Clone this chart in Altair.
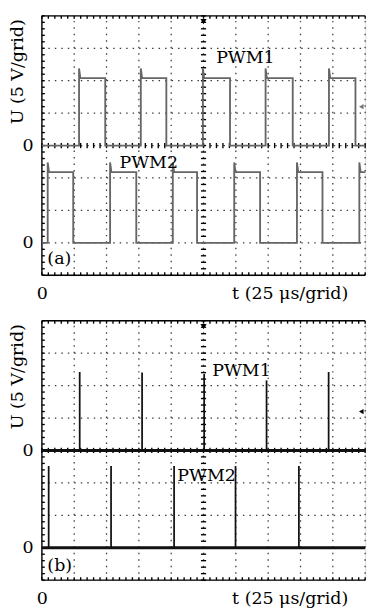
import altair as alt
import pandas as pd
import numpy as np

FONT = "DejaVu Serif"
FS = 18

# ---------------- data: time in grid divisions (25 us/grid), voltage in V (5 V/grid)
# panel (a): square PWM waves
a_pwm1_rise = [1.15, 3.06, 4.98, 6.92, 8.88]
a_pwm1_fall = [1.96, 3.85, 5.82, 7.76, 9.70]
a_pwm1_high = 10.4
a_pwm1_peak = 11.9

a_pwm2_rise = [0.18, 2.11, 4.05, 5.95, 7.89, 9.82]
a_pwm2_fall = [0.97, 2.92, 4.80, 6.75, 8.68]
a_pwm2_high = 10.9
a_pwm2_peak = 12.4

# panel (b): narrow pulses
b_pwm1_t = [1.17, 3.10, 5.02, 6.95, 8.87]
b_pwm1_peak = [12.1, 12.0, 11.8, 10.8, 12.1]
b_pwm2_t = [0.21, 2.14, 4.09, 5.99, 7.95]
b_pwm2_peak = [12.6, 12.6, 12.6, 12.6, 12.6]

x_grid = list(range(1, 11))
y_grid = list(range(1, 8))
x_label_at = [0]
y_label_at = [1, 4]
series_names = ["PWM1", "PWM2"]
panel_tags = ["(a)", "(b)"]

V_PER_DIV = 5.0
BASE = {"PWM1": 4.0, "PWM2": 1.0}   # grid line on which each trace's 0 V sits

W, H = 334, 268

XS = alt.Scale(domain=[0, 10], nice=False, zero=False)
YS = alt.Scale(domain=[0, 8], nice=False, zero=False)

XAXIS = alt.Axis(
    values=x_label_at, grid=False, ticks=False, tickSize=0, domain=False,
    labelExpr="'0'", labelFont=FONT, labelFontSize=FS,
    labelColor="black", labelPadding=10, labelFlush=False,
    title="t (25\u00a0\u03bcs/grid)", titleFont=FONT, titleFontSize=FS,
    titleFontWeight="normal", titleColor="black", titleX=256, titleY=24,
    titleBaseline="alphabetic", titleAlign="center",
)
YAXIS = alt.Axis(
    values=y_label_at, grid=False, ticks=False, tickSize=0, domain=False,
    labelExpr="'0'", labelFont=FONT, labelFontSize=FS, labelColor="black", labelPadding=9,
    title="U (5 V/grid)", titleFont=FONT, titleFontSize=FS, titleFontWeight="normal",
    titleColor="black", titleX=-25, titleY=3, titleAngle=270, titleAlign="right",
    titleBaseline="middle",
)


def X(field):
    return alt.X(field, scale=XS, axis=XAXIS)


def Y(field):
    return alt.Y(field, scale=YS, axis=YAXIS)


def square_wave(rise, fall, high, peak, base):
    events = sorted([(t, "r") for t in rise] + [(t, "f") for t in fall])
    pts = [(0.0, 0.0)]
    for t, kind in events:
        if kind == "r":
            pts += [(t, 0.0), (t, peak), (t + 0.04, high)]
        else:
            pts += [(t, high), (t, 0.0)]
    pts.append((10.0, pts[-1][1]))
    df = pd.DataFrame(pts, columns=["t", "u"])
    df["y"] = base + df["u"] / V_PER_DIV
    df["i"] = range(len(df))
    return df


def grid_layer():
    rows = [(xv, xv, 0.0, 8.0) for xv in x_grid] + [(0.0, 10.0, yv, yv) for yv in y_grid]
    df = pd.DataFrame(rows, columns=["x", "x2", "y", "y2"])
    return alt.Chart(df).mark_rule(color="#3a3a3a", strokeWidth=1.3, strokeDash=[1.5, 5.2]).encode(
        x=X("x:Q"), x2="x2:Q", y=Y("y:Q"), y2="y2:Q",
    )


def decorations():
    rows = []
    tl = 0.09
    for xv in np.round(np.arange(0, 10.001, 0.2), 3):
        rows.append((xv, xv, 8.0, 8.0 - tl))      # top edge ticks
        rows.append((xv, xv, 0.0, 0.0 + tl))      # bottom edge ticks
        rows.append((xv, xv, 4.0 - 0.08, 4.0 + 0.08))  # centre horizontal
    for yv in np.round(np.arange(0, 8.001, 0.2), 3):
        rows.append((0.0, 0.0 + tl, yv, yv))      # left edge ticks
        rows.append((5.0 - 0.08, 5.0 + 0.08, yv, yv))  # centre vertical
    rows += [(0.0, 0.0, 0.0, 8.0), (0.0, 10.0, 8.0, 8.0), (0.0, 10.0, 0.0, 0.0)]
    return pd.DataFrame(rows, columns=["x", "x2", "y", "y2"])


def frame_layer():
    return alt.Chart(decorations()).mark_rule(color="black", strokeWidth=1.4).encode(
        x=X("x:Q"), x2="x2:Q", y=Y("y:Q"), y2="y2:Q",
    )


def text_layer(rows):
    df = pd.DataFrame(rows, columns=["label", "x", "y"])
    return alt.Chart(df).mark_text(
        align="left", baseline="middle", font=FONT, fontSize=FS, color="black"
    ).encode(x=X("x:Q"), y=Y("y:Q"), text="label:N")


def markers(color_right):
    trig = alt.Chart(pd.DataFrame({"x": [5.0], "y": [8.0]})).mark_point(
        shape="triangle-down", filled=True, size=40, color="black", yOffset=6, opacity=1
    ).encode(x=X("x:Q"), y=Y("y:Q"))
    right = alt.Chart(pd.DataFrame({"x": [10.0], "y": [5.2]})).mark_point(
        shape="triangle-left", filled=True, size=30, color=color_right, xOffset=-4, opacity=1
    ).encode(x=X("x:Q"), y=Y("y:Q"))
    return trig, right


# ---------------- panel (a)
wa1 = square_wave(a_pwm1_rise, a_pwm1_fall, a_pwm1_high, a_pwm1_peak, BASE["PWM1"])
wa1["s"] = series_names[0]
wa2 = square_wave(a_pwm2_rise, a_pwm2_fall, a_pwm2_high, a_pwm2_peak, BASE["PWM2"])
wa2["s"] = series_names[1]
wa = pd.concat([wa1, wa2], ignore_index=True)

wave_a = alt.Chart(wa).mark_line(color="#666666", strokeWidth=1.9).encode(
    x=X("t:Q"), y=Y("y:Q"), detail="s:N", order="i:Q",
)
trig_a, right_a = markers("#777777")
panel_a = alt.layer(
    grid_layer(),
    frame_layer(),
    wave_a,
    text_layer([(series_names[0], 5.39, 6.71), (series_names[1], 2.40, 3.45), (panel_tags[0], 0.17, 0.49)]),
    trig_a,
    right_a,
).properties(width=W, height=H)

# ---------------- panel (b)
pulses = pd.DataFrame({
    "t": b_pwm1_t + b_pwm2_t,
    "u": b_pwm1_peak + b_pwm2_peak,
    "s": [series_names[0]] * len(b_pwm1_t) + [series_names[1]] * len(b_pwm2_t),
})
pulses["y0"] = pulses["s"].map(BASE)
pulses["y1"] = pulses["y0"] + pulses["u"] / V_PER_DIV

baselines = pd.DataFrame({"s": series_names, "y0": [BASE[s] for s in series_names],
                          "x0": [0.0, 0.0], "x1": [10.0, 10.0]})
base_b = alt.Chart(baselines).mark_rule(color="#111111", strokeWidth=3).encode(
    x=X("x0:Q"), x2="x1:Q", y=Y("y0:Q")
)
spikes_b = alt.Chart(pulses).mark_rule(color="#111111", strokeWidth=1.8).encode(
    x=X("t:Q"), y=Y("y0:Q"), y2="y1:Q",
)
trig_b, right_b = markers("black")
panel_b = alt.layer(
    grid_layer(),
    frame_layer(),
    base_b,
    spikes_b,
    text_layer([(series_names[0], 5.27, 6.44), (series_names[1], 4.19, 3.21), (panel_tags[1], 0.17, 0.42)]),
    trig_b,
    right_b,
).properties(width=W, height=H)

chart = alt.vconcat(panel_a, panel_b, spacing=16).properties(
    padding={"top": -4, "left": 0, "right": 0, "bottom": 0}
).configure_view(stroke=None).configure(background="white")

chart.save("out.html", embed_options={"renderer": "svg", "actions": False})
